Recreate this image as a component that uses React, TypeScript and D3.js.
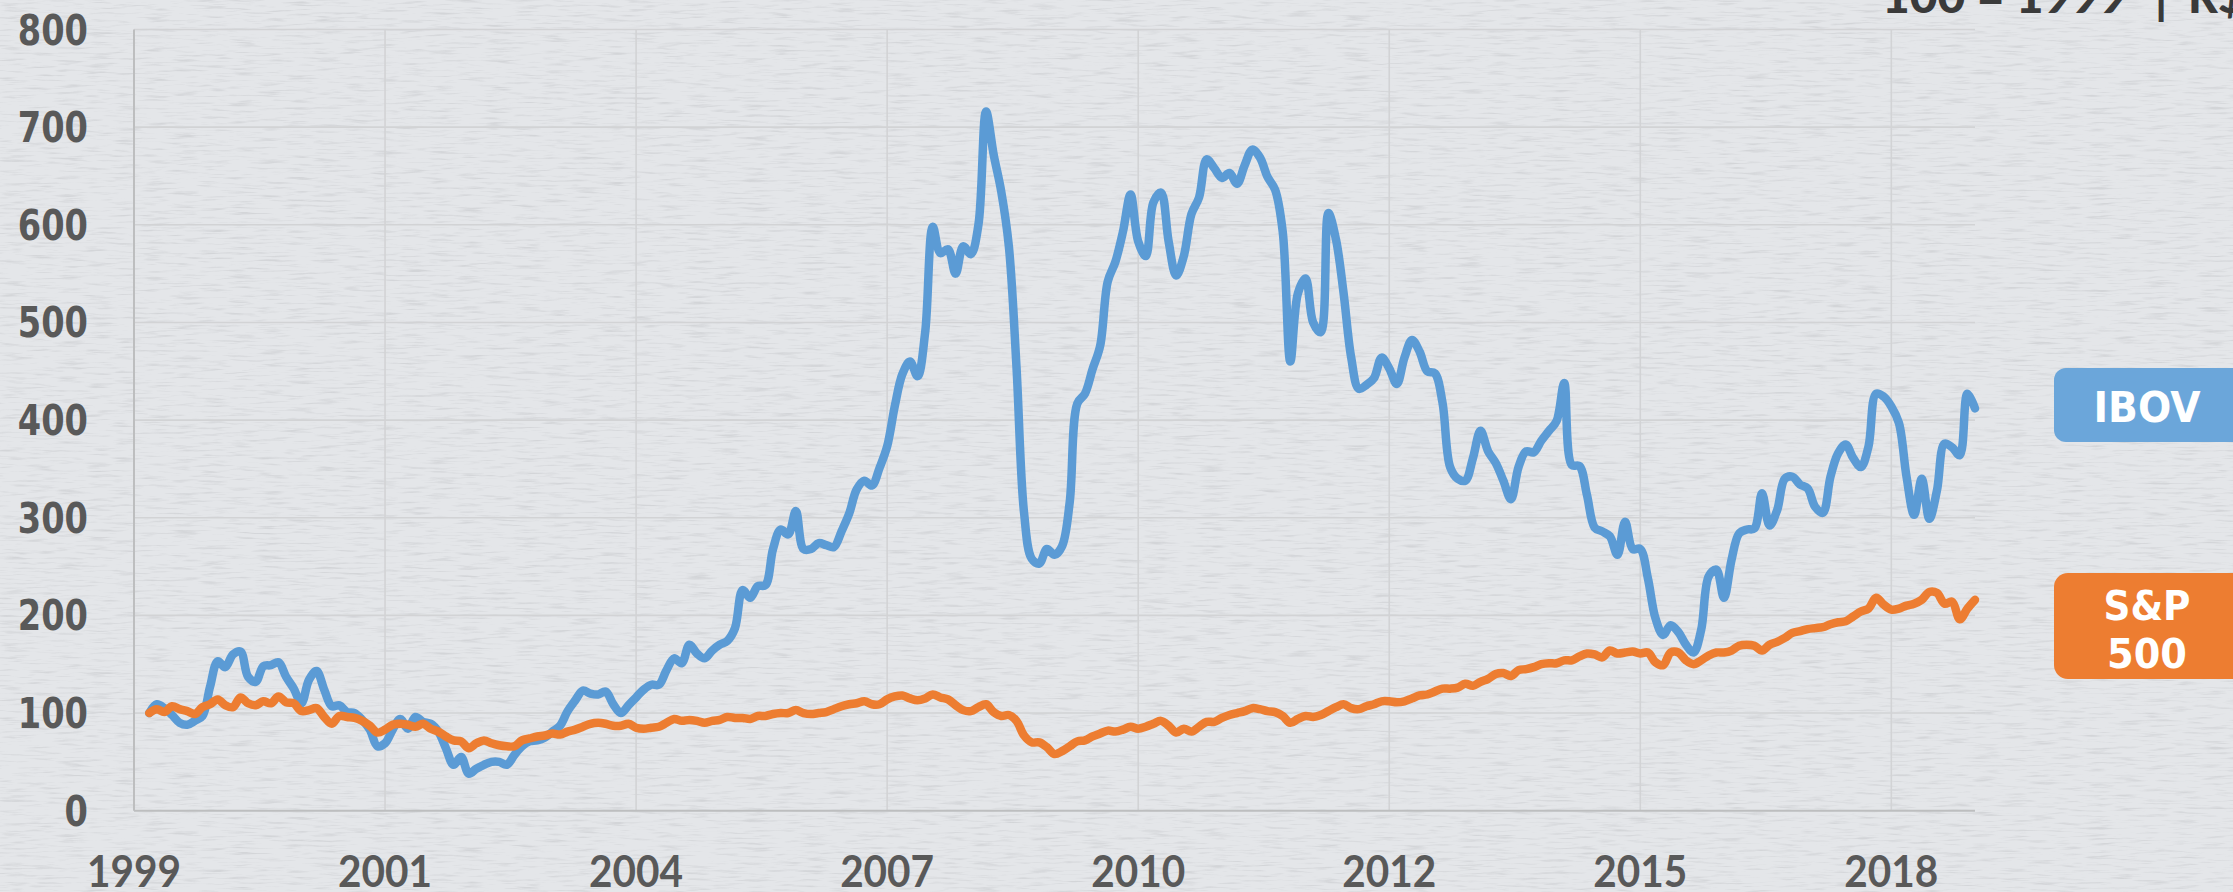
import * as d3 from "d3";
import { useEffect, useRef } from "react";

// monthly index values, 100 = 1999 (first point: Feb 1999)
const ibov = [
  100, 109, 105, 98, 90, 88, 92, 97, 127, 153,
  147, 160, 163, 137, 132, 148, 149, 152, 137, 125,
  110, 134, 143, 124, 107, 108, 101, 100, 93, 83,
  66, 69, 83, 94, 84, 96, 91, 89, 81, 64,
  47, 55, 38, 43, 47, 50, 50, 47, 57, 66,
  71, 72, 75, 81, 87, 102, 113, 123, 120, 119,
  122, 109, 100, 108, 116, 124, 129, 129, 144, 156,
  151, 170, 161, 156, 164, 170, 174, 187, 226, 218,
  230, 231, 268, 288, 283, 307, 268, 268, 274, 272,
  270, 286, 304, 329, 338, 333, 351, 373, 414, 447,
  460, 445, 490, 598, 571, 575, 550, 578, 570, 600,
  716, 672, 634, 578, 455, 305, 258, 253, 268, 262,
  271, 316, 417, 427, 452, 476, 542, 562, 593, 631,
  583, 568, 623, 633, 583, 548, 568, 611, 628, 667,
  658, 648, 653, 642, 661, 677, 669, 649, 636, 593,
  460, 530, 545, 500, 490, 612, 585, 530, 464, 432,
  436, 443, 464, 453, 437, 464, 482, 470, 450, 448,
  418, 352, 340, 338, 361, 389, 368, 356, 338, 319,
  352, 368, 367, 379, 389, 399, 438, 354, 353, 323,
  290, 286, 281, 262, 296, 268, 268, 238, 197, 180,
  190, 183, 170, 162, 185, 240, 247, 218, 257, 284,
  288, 289, 325, 292, 308, 340, 342, 334, 330, 311,
  305, 342, 366, 375, 361, 352, 373, 427, 424, 414,
  397, 342, 303, 340, 299, 328, 376, 372, 364, 427,
  412,
];

const sp500 = [
  100, 104, 101, 107, 104, 102, 99, 106, 109, 114,
  108, 106, 116, 110, 108, 112, 110, 117, 111, 110,
  102, 103, 105, 96, 89, 97, 96, 95, 92, 87,
  80, 83, 88, 89, 88, 86, 89, 84, 81, 76,
  72, 71, 64, 69, 72, 69, 67, 66, 66, 72,
  74, 76, 77, 79, 78, 81, 83, 86, 89, 90,
  89, 87, 87, 89, 85, 84, 85, 86, 90, 94,
  92, 93, 92, 90, 92, 93, 96, 95, 95, 94,
  97, 97, 99, 100, 100, 103, 100, 99, 100, 101,
  104, 107, 109, 110, 112, 109, 109, 114, 117, 118,
  115, 113, 115, 119, 116, 114, 108, 103, 102, 106,
  109, 101, 97, 98, 92, 77, 70, 70, 65, 58,
  61, 66, 71, 72, 76, 79, 82, 81, 83, 86,
  84, 86, 89, 92, 87, 80, 84, 81, 86, 91,
  91, 95, 98, 100, 102, 105, 104, 102, 101, 97,
  90, 94, 97, 96, 98, 102, 106, 109, 105, 104,
  107, 109, 112, 112, 111, 112, 115, 118, 119, 122,
  125, 125, 126, 130, 128, 132, 135, 140, 141, 138,
  144, 145, 147, 150, 151, 151, 154, 154, 158, 161,
  160, 157, 164, 161, 162, 163, 161, 162, 152, 149,
  162, 162, 154, 150, 154, 159, 162, 162, 164, 169,
  170, 169, 164, 170, 173, 177, 182, 184, 186, 187,
  188, 191, 193, 194, 199, 204, 207, 218, 211, 206,
  207, 210, 212, 216, 224, 223, 212, 214, 196, 207,
  216,
];

const yTicks = [0, 100, 200, 300, 400, 500, 600, 700, 800];
const xTickLabels = ["1999", "2001", "2004", "2007", "2010", "2012", "2015", "2018"];
const xTickMonths = [0, 33, 66, 99, 132, 165, 198, 231]; // months since Jan 1999
const firstMonth = 2; // first point sits at end of Feb 1999

const W = 2233;
const H = 892;

export default function App() {
  const ref = useRef<SVGSVGElement>(null);

  useEffect(() => {
    document.body.style.margin = "0";
    const svg = d3.select(ref.current);
    svg.selectAll("*").remove();

    const x = d3.scaleLinear().domain([0, 242]).range([134, 1975]);
    const y = d3.scaleLinear().domain([0, 800]).range([810.7, 29.5]);

    // paper background
    const defs = svg.append("defs");
    const f = defs
      .append("filter")
      .attr("id", "paper")
      .attr("x", 0)
      .attr("y", 0)
      .attr("width", "100%")
      .attr("height", "100%");
    f.append("feTurbulence")
      .attr("type", "fractalNoise")
      .attr("baseFrequency", "0.035 0.4")
      .attr("numOctaves", 3)
      .attr("seed", 7);
    f.append("feColorMatrix")
      .attr("type", "matrix")
      .attr("values", "0 0 0 0 0.42  0 0 0 0 0.43  0 0 0 0 0.45  3.2 0 0 0 -1.65");

    svg.append("rect").attr("width", W).attr("height", H).attr("fill", "#e4e6e9");
    svg
      .append("rect")
      .attr("width", W)
      .attr("height", H)
      .attr("filter", "url(#paper)")
      .attr("opacity", 0.3);

    // gridlines
    svg
      .append("g")
      .selectAll("line")
      .data(yTicks.slice(1))
      .join("line")
      .attr("x1", x(0))
      .attr("x2", x(242))
      .attr("y1", (d) => y(d))
      .attr("y2", (d) => y(d))
      .attr("stroke", "#d2d3d5")
      .attr("stroke-width", 1.6);

    svg
      .append("g")
      .selectAll("line")
      .data(xTickMonths.slice(1))
      .join("line")
      .attr("x1", (d) => x(d))
      .attr("x2", (d) => x(d))
      .attr("y1", y(800))
      .attr("y2", y(0))
      .attr("stroke", "#d2d3d5")
      .attr("stroke-width", 1.6);

    // axis lines
    svg
      .append("line")
      .attr("x1", x(0))
      .attr("x2", x(0))
      .attr("y1", y(800))
      .attr("y2", y(0))
      .attr("stroke", "#bdbebf")
      .attr("stroke-width", 2);
    svg
      .append("line")
      .attr("x1", x(0))
      .attr("x2", x(242))
      .attr("y1", y(0))
      .attr("y2", y(0))
      .attr("stroke", "#bdbebf")
      .attr("stroke-width", 2);

    // y labels
    svg
      .append("g")
      .selectAll("text")
      .data(yTicks)
      .join("text")
      .attr("x", 88)
      .attr("y", (d) => y(d) + 15)
      .attr("text-anchor", "end")
      .attr("font-family", "'DejaVu Sans', Verdana, sans-serif")
      .attr("font-weight", "bold")
      .attr("font-size", 42)
      .attr("fill", "#595959")
      .attr("textLength", (d) => String(d).length * 23.4)
      .attr("lengthAdjust", "spacingAndGlyphs")
      .text((d) => d);

    // x labels
    svg
      .append("g")
      .selectAll("text")
      .data(xTickLabels)
      .join("text")
      .attr("x", (_, i) => x(xTickMonths[i]))
      .attr("y", 887)
      .attr("text-anchor", "middle")
      .attr("font-family", "Lato, 'Open Sans', sans-serif")
      .attr("font-weight", "bold")
      .attr("font-size", 43)
      .attr("fill", "#595959")
      .attr("textLength", 94)
      .attr("lengthAdjust", "spacingAndGlyphs")
      .text((d) => d);

    // lines
    const line = d3
      .line<number>()
      .x((_, i) => x(firstMonth + i))
      .y((d) => y(d))
      .curve(d3.curveCatmullRom.alpha(0.5));

    svg
      .append("path")
      .datum(ibov)
      .attr("d", line)
      .attr("fill", "none")
      .attr("stroke", "#5b9bd5")
      .attr("stroke-width", 8.5)
      .attr("stroke-linejoin", "round")
      .attr("stroke-linecap", "round");

    svg
      .append("path")
      .datum(sp500)
      .attr("d", line)
      .attr("fill", "none")
      .attr("stroke", "#ed7d31")
      .attr("stroke-width", 8.5)
      .attr("stroke-linejoin", "round")
      .attr("stroke-linecap", "round");

    // legend boxes
    const legendFont = "'DejaVu Sans', Verdana, sans-serif";
    svg
      .append("rect")
      .attr("x", 2054)
      .attr("y", 368)
      .attr("width", 200)
      .attr("height", 74)
      .attr("rx", 12)
      .attr("fill", "#6ba6da");
    svg
      .append("text")
      .attr("x", 2147)
      .attr("y", 422)
      .attr("text-anchor", "middle")
      .attr("font-family", legendFont)
      .attr("font-weight", "bold")
      .attr("font-size", 43)
      .attr("fill", "#ffffff")
      .attr("textLength", 107)
      .attr("lengthAdjust", "spacingAndGlyphs")
      .text("IBOV");

    svg
      .append("rect")
      .attr("x", 2054)
      .attr("y", 573)
      .attr("width", 200)
      .attr("height", 106)
      .attr("rx", 14)
      .attr("fill", "#ed7d31");
    svg
      .append("text")
      .attr("x", 2147)
      .attr("y", 620)
      .attr("text-anchor", "middle")
      .attr("font-family", legendFont)
      .attr("font-weight", "bold")
      .attr("font-size", 40)
      .attr("fill", "#ffffff")
      .attr("textLength", 87)
      .attr("lengthAdjust", "spacingAndGlyphs")
      .text("S&P");
    svg
      .append("text")
      .attr("x", 2147)
      .attr("y", 668)
      .attr("text-anchor", "middle")
      .attr("font-family", legendFont)
      .attr("font-weight", "bold")
      .attr("font-size", 41)
      .attr("fill", "#ffffff")
      .attr("textLength", 80)
      .attr("lengthAdjust", "spacingAndGlyphs")
      .text("500");

    // cut-off note at the top right
    const noteFont = "Lato, 'Open Sans', sans-serif";
    svg
      .append("text")
      .attr("x", 1882)
      .attr("y", 12.5)
      .attr("font-family", noteFont)
      .attr("font-weight", 900)
      .attr("font-size", 46)
      .attr("fill", "#3a3a3a")
      .attr("textLength", 245)
      .attr("lengthAdjust", "spacingAndGlyphs")
      .text("100 = 1999");
    svg
      .append("text")
      .attr("x", 2155)
      .attr("y", 14)
      .attr("font-family", noteFont)
      .attr("font-weight", 900)
      .attr("font-size", 46)
      .attr("fill", "#3a3a3a")
      .text("|");
    svg
      .append("text")
      .attr("x", 2188)
      .attr("y", 12.5)
      .attr("font-family", noteFont)
      .attr("font-weight", 900)
      .attr("font-size", 46)
      .attr("fill", "#3a3a3a")
      .text("R$");
  }, []);

  return <svg ref={ref} width={W} height={H} style={{ display: "block" }} />;
}
